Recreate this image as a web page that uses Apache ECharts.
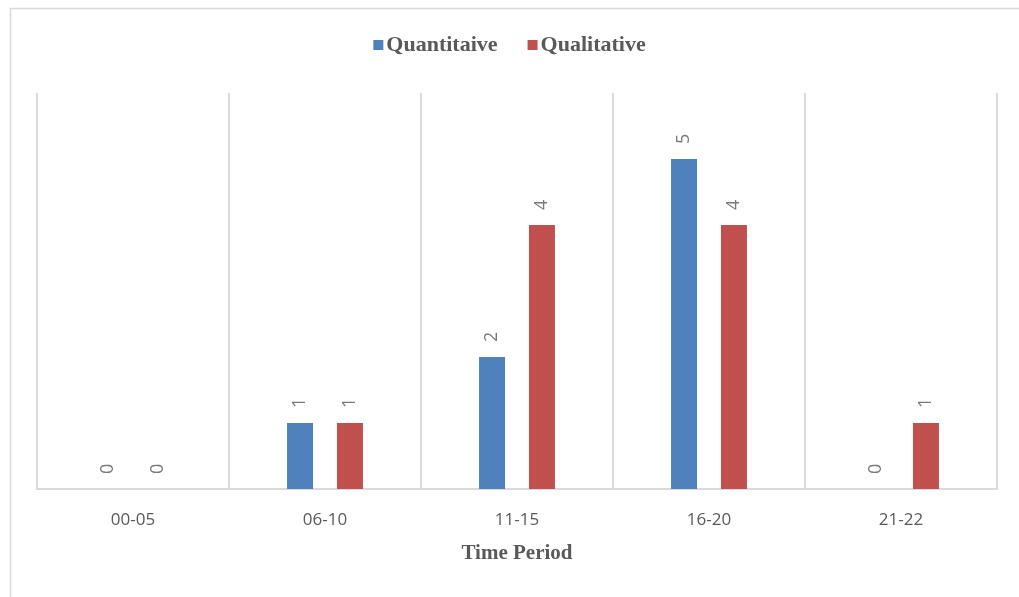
<!DOCTYPE html>
<html>
<head>
<meta charset="utf-8">
<script src="https://cdn.jsdelivr.net/npm/echarts@6/dist/echarts.min.js"></script>
<style>html,body{margin:0;padding:0;background:#fff}#c{width:1019px;height:597px}</style>
</head>
<body>
<div id="c"></div>
<script>
const categories = ['00-05', '06-10', '11-15', '16-20', '21-22'];
const quantitative = [0, 1, 2, 5, 0];
const qualitative = [0, 1, 4, 4, 1];
const seriesNames = ['Quantitaive', 'Qualitative'];
const xAxisTitle = 'Time Period';

const chart = echarts.init(document.getElementById('c'));
const labelCfg = {
  show: true, position: 'top', distance: 15, rotate: 90,
  align: 'left', verticalAlign: 'middle',
  color: '#7a7a7a', fontSize: 18, fontFamily: 'Open Sans, sans-serif'
};
chart.setOption({
  animation: false,
  backgroundColor: '#fff',
  graphic: [{
    type: 'rect', left: 8, top: 6,
    shape: { width: 1030, height: 620 },
    style: { fill: 'none', stroke: '#d9d9d9', lineWidth: 1.5 },
    silent: true, z: -1
  }],
  legend: {
    top: 29, left: 'center',
    itemWidth: 10, itemHeight: 10, itemGap: 30,
    icon: 'rect',
    textStyle: { fontFamily: 'Liberation Serif, serif', fontWeight: 'bold', fontSize: 22, color: '#595959', padding: [0, 0, 0, -2] },
    data: seriesNames
  },
  grid: { left: 37, right: 22, top: 93, bottom: 108, containLabel: false },
  xAxis: {
    type: 'category', data: categories,
    axisLine: { lineStyle: { color: '#d9d9d9', width: 2 } },
    axisTick: { show: false },
    splitLine: { show: true, lineStyle: { color: '#d9d9d9', width: 2 } },
    axisLabel: { color: '#595959', fontSize: 17, margin: 23, fontFamily: 'Open Sans, sans-serif' },
    name: xAxisTitle, nameLocation: 'middle', nameGap: 54,
    nameTextStyle: { fontFamily: 'Liberation Serif, serif', fontWeight: 'bold', fontSize: 21, color: '#595959' }
  },
  yAxis: {
    type: 'value', min: 0, max: 6, interval: 1,
    show: false, splitLine: { show: false }
  },
  series: [
    { name: seriesNames[0], type: 'bar', data: quantitative, barWidth: 26, barGap: '92%',
      itemStyle: { color: '#4f81bd' }, label: labelCfg },
    { name: seriesNames[1], type: 'bar', data: qualitative, barWidth: 26,
      itemStyle: { color: '#c0504d' }, label: labelCfg }
  ]
});
</script>
</body>
</html>
